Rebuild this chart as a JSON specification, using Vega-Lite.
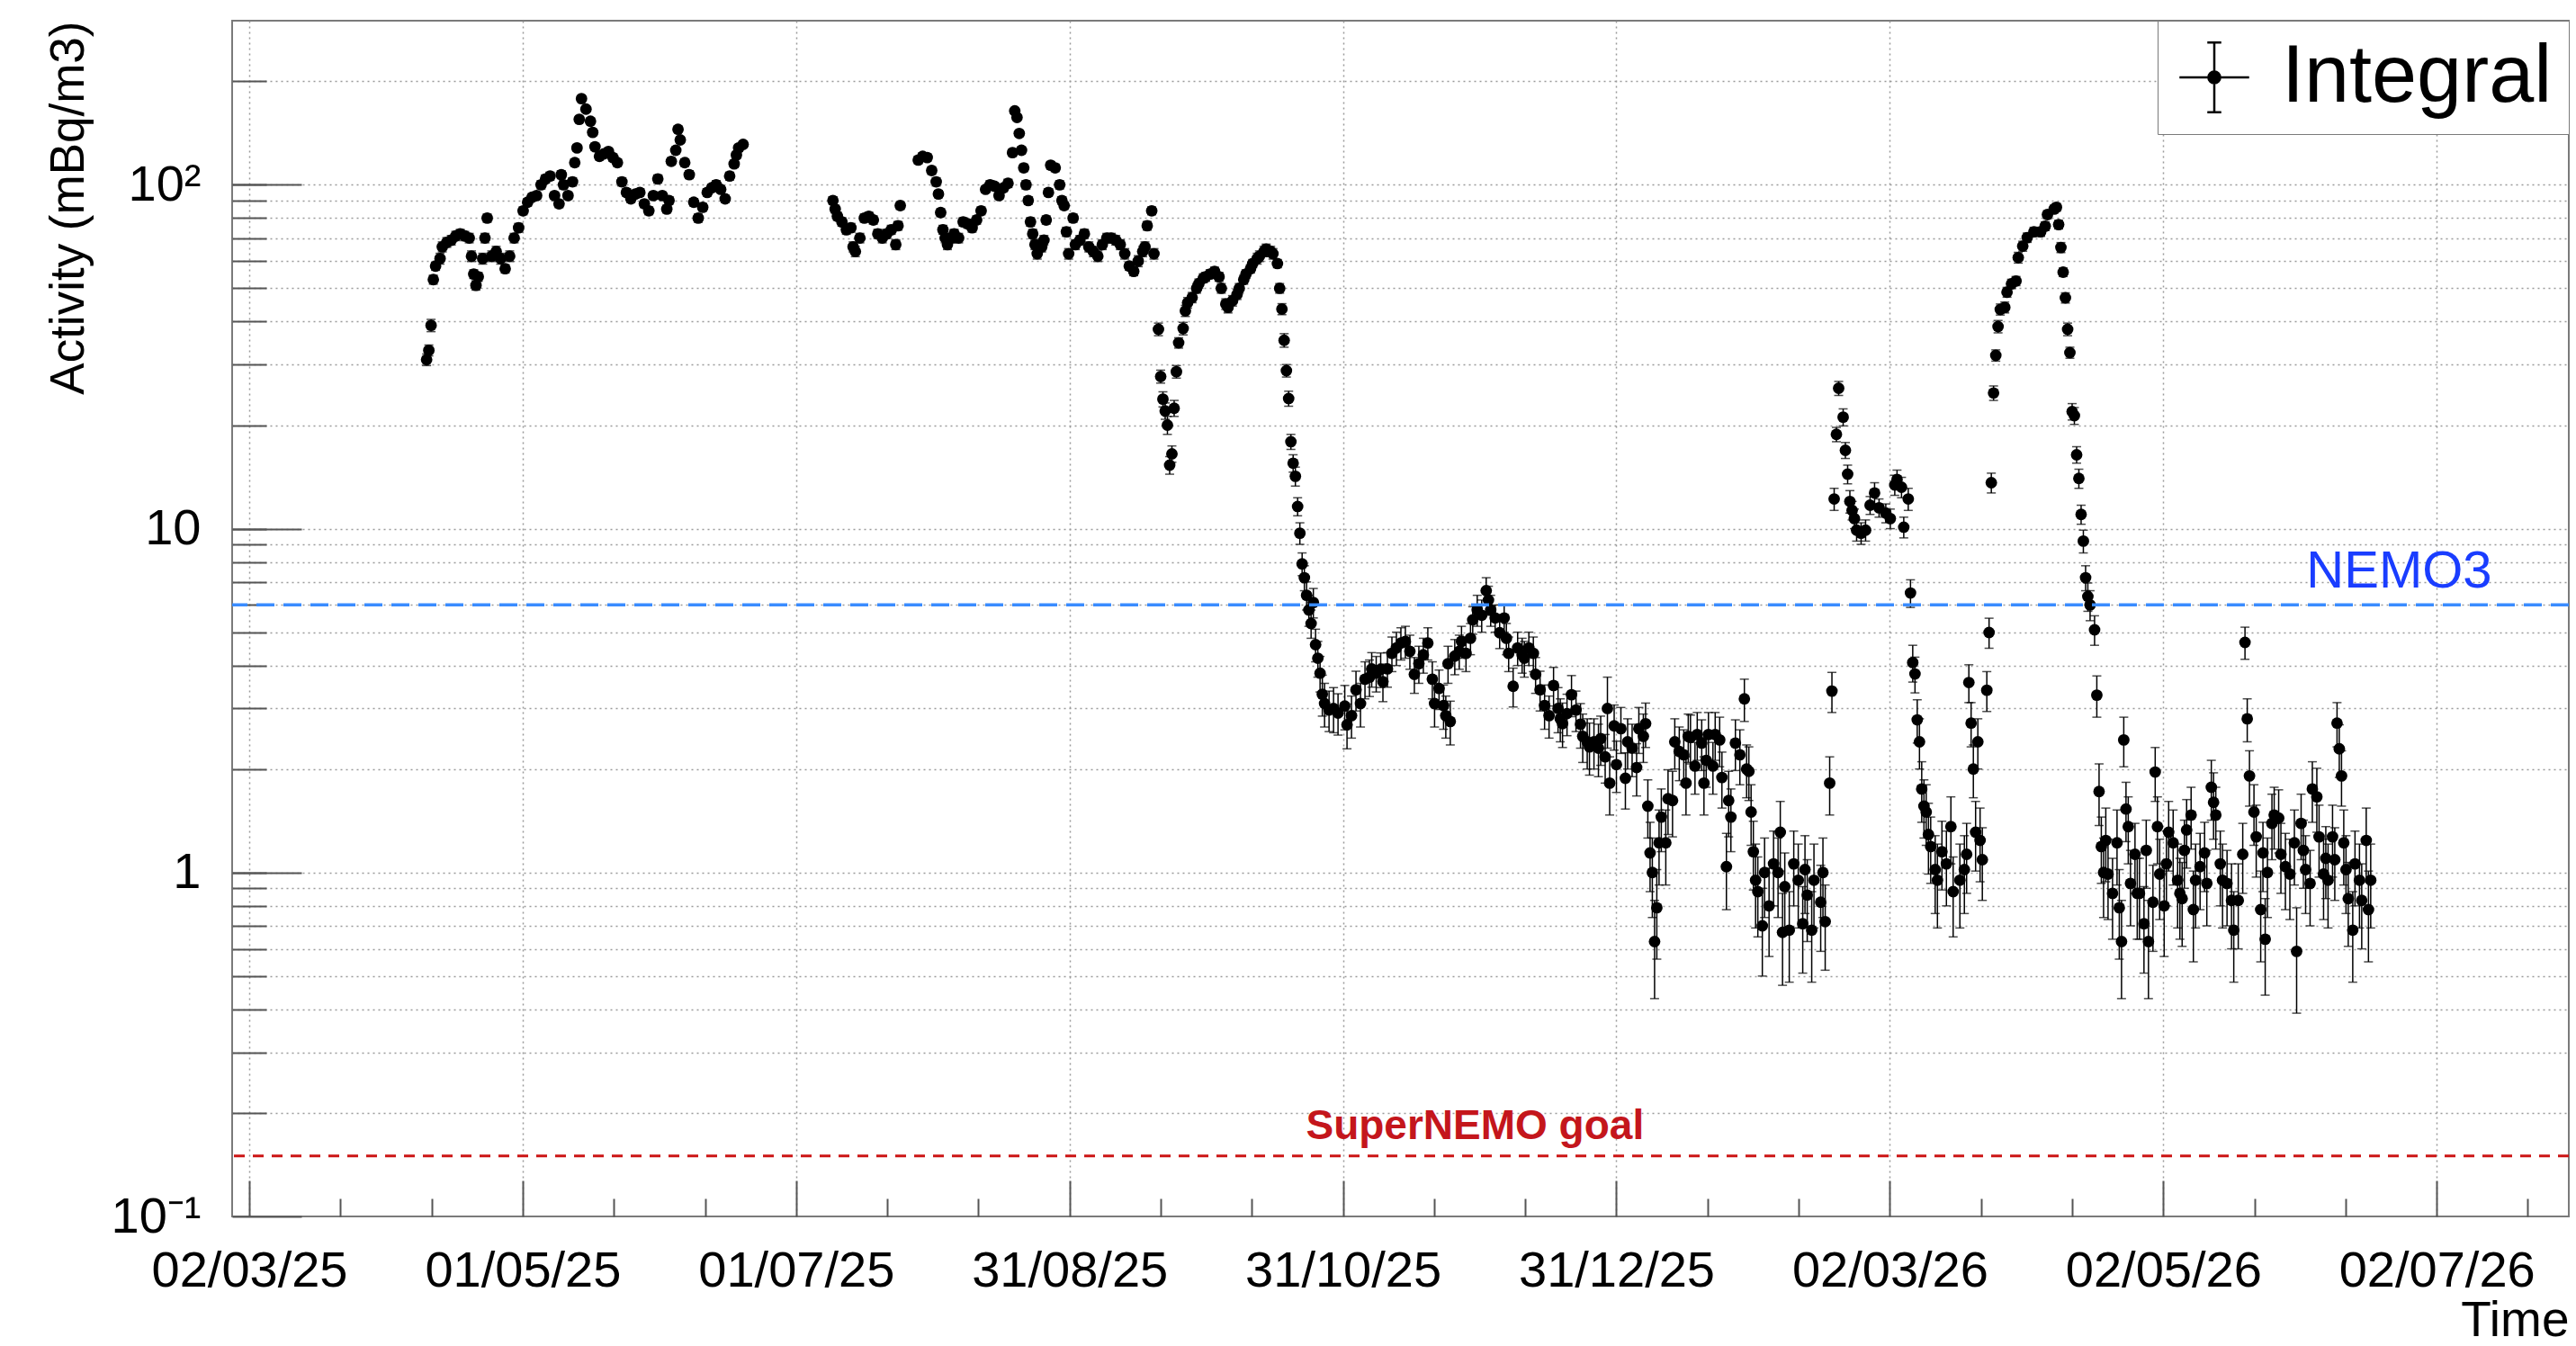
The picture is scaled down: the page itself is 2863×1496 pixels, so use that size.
{
"$schema": "https://vega.github.io/schema/vega-lite/v6.json",
"width": 2597,
"height": 1329,
"autosize": {"type": "none"},
"padding": {"left": 258, "top": 23, "right": 8, "bottom": 144},
"background": "white",
"config": {
  "view": {"stroke": "#7a7a7a", "strokeWidth": 2},
  "font": "Liberation Sans",
  "axis": {"labelFont": "Liberation Sans", "titleFont": "Liberation Sans", "domain": false, "labelColor": "black", "titleColor": "black", "titleFontWeight": "normal", "gridColor": "#9a9a9a", "gridDash": [2, 4], "gridWidth": 1.5, "tickColor": "#555555", "tickWidth": 2, "labelOverlap": false, "labelFlush": false, "labelLimit": 1000, "titleLimit": 2000},
  "legend": {"labelLimit": 1000}
},
"datasets": {
"act": [
{"t":"2025-04-10T12:00:00Z","v":31,"e":1.2},{"t":"2025-04-11","v":33,"e":1.2},{"t":"2025-04-11T12:00:00Z","v":39,"e":1.6},{"t":"2025-04-12","v":53,"e":1.6},{"t":"2025-04-12T12:00:00Z","v":58,"e":1.6},{"t":"2025-04-13T12:00:00Z","v":61,"e":2.2},{"t":"2025-04-14","v":66,"e":2.2},{"t":"2025-04-15","v":68,"e":2.2},{"t":"2025-04-16","v":69,"e":2.2},{"t":"2025-04-17","v":71,"e":2.2},{"t":"2025-04-18","v":72,"e":2.2},{"t":"2025-04-19","v":71,"e":2.2},{"t":"2025-04-20","v":70,"e":2.2},{"t":"2025-04-20T12:00:00Z","v":62,"e":2.2},{"t":"2025-04-21","v":55,"e":1.6},{"t":"2025-04-21T12:00:00Z","v":51,"e":1.6},{"t":"2025-04-22","v":54,"e":1.6},{"t":"2025-04-23","v":61,"e":2.2},{"t":"2025-04-23T12:00:00Z","v":70,"e":2.2},{"t":"2025-04-24","v":80,"e":2.2},{"t":"2025-04-25","v":62,"e":2.2},{"t":"2025-04-26","v":64,"e":2.2},{"t":"2025-04-27","v":61,"e":2.2},{"t":"2025-04-28","v":57,"e":1.6},{"t":"2025-04-29","v":62,"e":2.2},{"t":"2025-04-30","v":70,"e":2.2},
{"t":"2025-05-01","v":75,"e":2.2},{"t":"2025-05-02","v":84,"e":2.2},{"t":"2025-05-03","v":89,"e":2.2},{"t":"2025-05-04","v":92,"e":2.2},{"t":"2025-05-05","v":93,"e":2.2},{"t":"2025-05-06","v":100,"e":2.8},{"t":"2025-05-07","v":104,"e":2.8},{"t":"2025-05-08","v":106,"e":2.8},{"t":"2025-05-09","v":93,"e":2.2},{"t":"2025-05-10","v":88,"e":2.2},{"t":"2025-05-10T12:00:00Z","v":107,"e":2.8},{"t":"2025-05-11","v":100,"e":2.8},{"t":"2025-05-12","v":93,"e":2.2},{"t":"2025-05-13","v":102,"e":2.8},{"t":"2025-05-13T12:00:00Z","v":116,"e":2.8},{"t":"2025-05-14","v":128,"e":2.8},{"t":"2025-05-14T12:00:00Z","v":155,"e":2.8},{"t":"2025-05-15","v":178,"e":2.8},{"t":"2025-05-16","v":166,"e":2.8},{"t":"2025-05-17","v":153,"e":2.8},{"t":"2025-05-17T12:00:00Z","v":142,"e":2.8},{"t":"2025-05-18","v":129,"e":2.8},{"t":"2025-05-19","v":121,"e":2.8},{"t":"2025-05-20","v":123,"e":2.8},{"t":"2025-05-21","v":125,"e":2.8},{"t":"2025-05-22","v":120,"e":2.8},{"t":"2025-05-23","v":116,"e":2.8},{"t":"2025-05-24","v":102,"e":2.8},{"t":"2025-05-25","v":95,"e":2.2},{"t":"2025-05-26","v":91,"e":2.2},{"t":"2025-05-27","v":94,"e":2.2},{"t":"2025-05-28","v":95,"e":2.2},{"t":"2025-05-29","v":88,"e":2.2},{"t":"2025-05-30","v":84,"e":2.2},{"t":"2025-05-31","v":93,"e":2.2},
{"t":"2025-06-01","v":104,"e":2.8},{"t":"2025-06-02","v":93,"e":2.2},{"t":"2025-06-03","v":85,"e":2.2},{"t":"2025-06-03T12:00:00Z","v":90,"e":2.2},{"t":"2025-06-04","v":117,"e":2.8},{"t":"2025-06-05","v":126,"e":2.8},{"t":"2025-06-05T12:00:00Z","v":145,"e":2.8},{"t":"2025-06-06","v":135,"e":2.8},{"t":"2025-06-07","v":116,"e":2.8},{"t":"2025-06-08","v":107,"e":2.8},{"t":"2025-06-09","v":89,"e":2.2},{"t":"2025-06-10","v":80,"e":2.2},{"t":"2025-06-11","v":86,"e":2.2},{"t":"2025-06-12","v":95,"e":2.2},{"t":"2025-06-13","v":98,"e":2.2},{"t":"2025-06-14","v":100,"e":2.8},{"t":"2025-06-15","v":97,"e":2.2},{"t":"2025-06-16","v":91,"e":2.2},{"t":"2025-06-17","v":106,"e":2.8},{"t":"2025-06-18","v":115,"e":2.8},{"t":"2025-06-18T12:00:00Z","v":122,"e":2.8},{"t":"2025-06-19","v":128,"e":2.8},{"t":"2025-06-20","v":131,"e":2.8},
{"t":"2025-07-10","v":90,"e":2.2},{"t":"2025-07-10T12:00:00Z","v":85,"e":2.2},{"t":"2025-07-11","v":81,"e":2.2},{"t":"2025-07-12","v":78,"e":2.2},{"t":"2025-07-13","v":74,"e":2.2},{"t":"2025-07-14","v":75,"e":2.2},{"t":"2025-07-14T12:00:00Z","v":66,"e":2.2},{"t":"2025-07-15","v":64,"e":2.2},{"t":"2025-07-16","v":70,"e":2.2},{"t":"2025-07-17","v":80,"e":2.2},{"t":"2025-07-18","v":81,"e":2.2},{"t":"2025-07-19","v":79,"e":2.2},{"t":"2025-07-20","v":72,"e":2.2},{"t":"2025-07-21","v":70,"e":2.2},{"t":"2025-07-22","v":72,"e":2.2},{"t":"2025-07-23","v":74,"e":2.2},{"t":"2025-07-24","v":67,"e":2.2},{"t":"2025-07-24T12:00:00Z","v":76,"e":2.2},{"t":"2025-07-25","v":87,"e":2.2},{"t":"2025-07-29","v":118,"e":2.8},{"t":"2025-07-30","v":121,"e":2.8},{"t":"2025-07-31","v":120,"e":2.8},
{"t":"2025-08-01","v":110,"e":2.8},{"t":"2025-08-02","v":102,"e":2.8},{"t":"2025-08-02T12:00:00Z","v":94,"e":2.2},{"t":"2025-08-03","v":83,"e":2.2},{"t":"2025-08-03T12:00:00Z","v":74,"e":2.2},{"t":"2025-08-04","v":70,"e":2.2},{"t":"2025-08-04T12:00:00Z","v":67,"e":2.2},{"t":"2025-08-05T12:00:00Z","v":70,"e":2.2},{"t":"2025-08-06","v":72,"e":2.2},{"t":"2025-08-07","v":70,"e":2.2},{"t":"2025-08-08","v":78,"e":2.2},{"t":"2025-08-09","v":77,"e":2.2},{"t":"2025-08-10","v":75,"e":2.2},{"t":"2025-08-11","v":79,"e":2.2},{"t":"2025-08-12","v":84,"e":2.2},{"t":"2025-08-13","v":97,"e":2.2},{"t":"2025-08-14","v":100,"e":2.8},{"t":"2025-08-15","v":99,"e":2.2},{"t":"2025-08-16","v":93,"e":2.2},{"t":"2025-08-17","v":98,"e":2.2},{"t":"2025-08-18","v":101,"e":2.8},{"t":"2025-08-19","v":124,"e":2.8},{"t":"2025-08-19T12:00:00Z","v":164,"e":2.8},{"t":"2025-08-20","v":157,"e":2.8},{"t":"2025-08-20T12:00:00Z","v":141,"e":2.8},{"t":"2025-08-21","v":126,"e":2.8},{"t":"2025-08-21T12:00:00Z","v":112,"e":2.8},{"t":"2025-08-22","v":100,"e":2.8},{"t":"2025-08-22T12:00:00Z","v":90,"e":2.2},{"t":"2025-08-23","v":78,"e":2.2},{"t":"2025-08-23T12:00:00Z","v":72,"e":2.2},{"t":"2025-08-24","v":67,"e":2.2},{"t":"2025-08-24T12:00:00Z","v":63,"e":2.2},{"t":"2025-08-25T12:00:00Z","v":66,"e":2.2},{"t":"2025-08-26","v":69,"e":2.2},{"t":"2025-08-26T12:00:00Z","v":79,"e":2.2},{"t":"2025-08-27","v":95,"e":2.2},{"t":"2025-08-27T12:00:00Z","v":114,"e":2.8},{"t":"2025-08-28T12:00:00Z","v":112,"e":2.8},{"t":"2025-08-29T12:00:00Z","v":100,"e":2.8},{"t":"2025-08-30","v":90,"e":2.2},{"t":"2025-08-30T12:00:00Z","v":87,"e":2.2},{"t":"2025-08-31","v":73,"e":2.2},{"t":"2025-08-31T12:00:00Z","v":63,"e":2.2},
{"t":"2025-09-01T12:00:00Z","v":80,"e":2.2},{"t":"2025-09-02","v":67,"e":2.2},{"t":"2025-09-03","v":69,"e":2.2},{"t":"2025-09-04","v":72,"e":2.2},{"t":"2025-09-05","v":66,"e":2.2},{"t":"2025-09-06","v":64,"e":2.2},{"t":"2025-09-07","v":62,"e":2.2},{"t":"2025-09-08","v":67,"e":2.2},{"t":"2025-09-09","v":70,"e":2.2},{"t":"2025-09-10","v":70,"e":2.2},{"t":"2025-09-11","v":69,"e":2.2},{"t":"2025-09-12","v":67,"e":2.2},{"t":"2025-09-13","v":63,"e":2.2},{"t":"2025-09-14","v":58,"e":1.6},{"t":"2025-09-15","v":56,"e":1.6},{"t":"2025-09-16","v":60,"e":2.2},{"t":"2025-09-17","v":64,"e":2.2},{"t":"2025-09-17T12:00:00Z","v":66,"e":2.2},{"t":"2025-09-18","v":76,"e":2.2},{"t":"2025-09-19","v":84,"e":2.2},{"t":"2025-09-19T12:00:00Z","v":63,"e":2.2},{"t":"2025-09-20T12:00:00Z","v":38,"e":1.6},{"t":"2025-09-21","v":27.7,"e":1.2},{"t":"2025-09-21T12:00:00Z","v":23.8,"e":1.2},{"t":"2025-09-22","v":22,"e":1.2},{"t":"2025-09-22T12:00:00Z","v":20,"e":1.2},{"t":"2025-09-23","v":15.3,"e":0.9},{"t":"2025-09-23T12:00:00Z","v":16.5,"e":0.9},{"t":"2025-09-24","v":22.4,"e":1.2},{"t":"2025-09-24T12:00:00Z","v":28.6,"e":1.2},{"t":"2025-09-25","v":34.7,"e":1.2},{"t":"2025-09-26","v":38.2,"e":1.6},{"t":"2025-09-26T12:00:00Z","v":43,"e":1.6},{"t":"2025-09-27","v":45.4,"e":1.6},{"t":"2025-09-28","v":47,"e":1.6},{"t":"2025-09-29","v":50,"e":1.6},{"t":"2025-09-29T12:00:00Z","v":51.6,"e":1.6},{"t":"2025-09-30T12:00:00Z","v":53.5,"e":1.6},
{"t":"2025-10-01","v":54,"e":1.6},{"t":"2025-10-02","v":55,"e":1.6},{"t":"2025-10-03","v":56,"e":1.6},{"t":"2025-10-04","v":54,"e":1.6},{"t":"2025-10-04T12:00:00Z","v":50,"e":1.6},{"t":"2025-10-05T12:00:00Z","v":45,"e":1.6},{"t":"2025-10-06","v":44,"e":1.6},{"t":"2025-10-07","v":46,"e":1.6},{"t":"2025-10-08","v":48,"e":1.6},{"t":"2025-10-08T12:00:00Z","v":50,"e":1.6},{"t":"2025-10-09T12:00:00Z","v":53,"e":1.6},{"t":"2025-10-10","v":55,"e":1.6},{"t":"2025-10-11","v":57,"e":1.6},{"t":"2025-10-11T12:00:00Z","v":59,"e":1.6},{"t":"2025-10-12T12:00:00Z","v":61,"e":2.2},{"t":"2025-10-13","v":62,"e":2.2},{"t":"2025-10-14","v":64,"e":2.2},{"t":"2025-10-14T12:00:00Z","v":65,"e":2.2},{"t":"2025-10-15T12:00:00Z","v":64,"e":2.2},{"t":"2025-10-16","v":63,"e":2.2},{"t":"2025-10-17","v":59,"e":1.6},{"t":"2025-10-17T12:00:00Z","v":50,"e":1.6},{"t":"2025-10-18","v":43.5,"e":1.6},{"t":"2025-10-18T12:00:00Z","v":35.3,"e":1.6},{"t":"2025-10-19","v":28.8,"e":1.2},{"t":"2025-10-19T12:00:00Z","v":23.9,"e":1.2},{"t":"2025-10-20","v":17.9,"e":0.9},{"t":"2025-10-20T12:00:00Z","v":15.5,"e":0.9},{"t":"2025-10-21","v":14.2,"e":0.9},{"t":"2025-10-21T12:00:00Z","v":11.6,"e":0.7},{"t":"2025-10-22","v":9.7,"e":0.7},{"t":"2025-10-22T12:00:00Z","v":7.9,"e":0.6},{"t":"2025-10-23","v":7.2,"e":0.6},{"t":"2025-10-23T12:00:00Z","v":6.4,"e":0.6},{"t":"2025-10-24","v":5.8,"e":0.6},{"t":"2025-10-24T12:00:00Z","v":5.3,"e":0.5},{"t":"2025-10-25","v":6.1,"e":0.6},{"t":"2025-10-25T12:00:00Z","v":4.6,"e":0.5},{"t":"2025-10-26","v":4.2,"e":0.5},{"t":"2025-10-26T12:00:00Z","v":3.8,"e":0.45},{"t":"2025-10-27","v":3.3,"e":0.45},{"t":"2025-10-27T12:00:00Z","v":3.1,"e":0.45},{"t":"2025-10-28T12:00:00Z","v":2.97,"e":0.4},{"t":"2025-10-29T12:00:00Z","v":3.0,"e":0.45},{"t":"2025-10-30T12:00:00Z","v":2.91,"e":0.4},
{"t":"2025-11-01","v":3.05,"e":0.45},{"t":"2025-11-01T12:00:00Z","v":2.69,"e":0.4},{"t":"2025-11-02T12:00:00Z","v":2.86,"e":0.4},{"t":"2025-11-03T12:00:00Z","v":3.4,"e":0.45},{"t":"2025-11-04T12:00:00Z","v":3.1,"e":0.45},{"t":"2025-11-05T12:00:00Z","v":3.65,"e":0.45},{"t":"2025-11-06T12:00:00Z","v":3.7,"e":0.45},{"t":"2025-11-07","v":3.91,"e":0.45},{"t":"2025-11-08","v":3.8,"e":0.45},{"t":"2025-11-09","v":3.9,"e":0.45},{"t":"2025-11-09T12:00:00Z","v":3.59,"e":0.45},{"t":"2025-11-10T12:00:00Z","v":3.91,"e":0.45},{"t":"2025-11-11T12:00:00Z","v":4.34,"e":0.5},{"t":"2025-11-12T12:00:00Z","v":4.5,"e":0.5},{"t":"2025-11-13T12:00:00Z","v":4.65,"e":0.5},{"t":"2025-11-14T12:00:00Z","v":4.7,"e":0.5},{"t":"2025-11-15T12:00:00Z","v":4.4,"e":0.5},{"t":"2025-11-16T12:00:00Z","v":3.77,"e":0.45},{"t":"2025-11-17T12:00:00Z","v":4.05,"e":0.5},{"t":"2025-11-18T12:00:00Z","v":4.3,"e":0.5},{"t":"2025-11-19T12:00:00Z","v":4.65,"e":0.5},{"t":"2025-11-20T12:00:00Z","v":3.65,"e":0.45},{"t":"2025-11-21","v":3.1,"e":0.45},{"t":"2025-11-22","v":3.43,"e":0.45},{"t":"2025-11-23","v":3.06,"e":0.45},{"t":"2025-11-23T12:00:00Z","v":2.86,"e":0.4},{"t":"2025-11-24","v":4.05,"e":0.5},{"t":"2025-11-24T12:00:00Z","v":2.75,"e":0.4},{"t":"2025-11-25T12:00:00Z","v":4.26,"e":0.5},{"t":"2025-11-26T12:00:00Z","v":4.4,"e":0.5},{"t":"2025-11-27","v":4.7,"e":0.5},{"t":"2025-11-28","v":4.34,"e":0.5},{"t":"2025-11-29","v":4.8,"e":0.5},{"t":"2025-11-29T12:00:00Z","v":5.43,"e":0.5},{"t":"2025-11-30T12:00:00Z","v":5.8,"e":0.6},
{"t":"2025-12-01T12:00:00Z","v":5.6,"e":0.6},{"t":"2025-12-02T12:00:00Z","v":6.6,"e":0.6},{"t":"2025-12-03","v":6.2,"e":0.6},{"t":"2025-12-03T12:00:00Z","v":5.8,"e":0.6},{"t":"2025-12-04T12:00:00Z","v":5.5,"e":0.5},{"t":"2025-12-05T12:00:00Z","v":4.98,"e":0.5},{"t":"2025-12-06T12:00:00Z","v":5.5,"e":0.5},{"t":"2025-12-07","v":4.8,"e":0.5},{"t":"2025-12-07T12:00:00Z","v":4.34,"e":0.5},{"t":"2025-12-08T12:00:00Z","v":3.48,"e":0.45},{"t":"2025-12-09T12:00:00Z","v":4.5,"e":0.5},{"t":"2025-12-10T12:00:00Z","v":4.3,"e":0.5},{"t":"2025-12-11","v":4.2,"e":0.5},{"t":"2025-12-12","v":4.5,"e":0.5},{"t":"2025-12-13","v":4.34,"e":0.5},{"t":"2025-12-13T12:00:00Z","v":3.77,"e":0.45},{"t":"2025-12-14T12:00:00Z","v":3.4,"e":0.45},{"t":"2025-12-15T12:00:00Z","v":3.06,"e":0.45},{"t":"2025-12-16T12:00:00Z","v":2.86,"e":0.4},{"t":"2025-12-17T12:00:00Z","v":3.5,"e":0.45},{"t":"2025-12-18T12:00:00Z","v":3.0,"e":0.45},{"t":"2025-12-19","v":2.8,"e":0.4},{"t":"2025-12-19T12:00:00Z","v":2.71,"e":0.4},{"t":"2025-12-20T12:00:00Z","v":2.9,"e":0.4},{"t":"2025-12-21T12:00:00Z","v":3.29,"e":0.45},{"t":"2025-12-22T12:00:00Z","v":2.97,"e":0.4},{"t":"2025-12-23T12:00:00Z","v":2.7,"e":0.4},{"t":"2025-12-24","v":2.49,"e":0.4},{"t":"2025-12-25","v":2.4,"e":0.4},{"t":"2025-12-25T12:00:00Z","v":2.32,"e":0.4},{"t":"2025-12-26T12:00:00Z","v":2.4,"e":0.4},{"t":"2025-12-27T12:00:00Z","v":2.3,"e":0.4},{"t":"2025-12-28","v":2.45,"e":0.4},{"t":"2025-12-29","v":2.17,"e":0.35},{"t":"2025-12-29T12:00:00Z","v":3.0,"e":0.7},{"t":"2025-12-30","v":1.82,"e":0.35},{"t":"2025-12-31","v":2.67,"e":0.4},{"t":"2025-12-31T12:00:00Z","v":2.06,"e":0.35},
{"t":"2026-01-01T12:00:00Z","v":2.62,"e":0.4},{"t":"2026-01-02T12:00:00Z","v":1.88,"e":0.35},{"t":"2026-01-03","v":2.4,"e":0.4},{"t":"2026-01-04","v":2.3,"e":0.4},{"t":"2026-01-05","v":2.02,"e":0.35},{"t":"2026-01-05T12:00:00Z","v":2.62,"e":0.4},{"t":"2026-01-06T12:00:00Z","v":2.49,"e":0.4},{"t":"2026-01-07","v":2.71,"e":0.4},{"t":"2026-01-07T12:00:00Z","v":1.56,"e":0.3},{"t":"2026-01-08","v":1.14,"e":0.26},{"t":"2026-01-08T12:00:00Z","v":1.0,"e":0.26},{"t":"2026-01-09","v":0.63,"e":0.2},{"t":"2026-01-09T12:00:00Z","v":0.79,"e":0.23},{"t":"2026-01-10","v":1.22,"e":0.3},{"t":"2026-01-10T12:00:00Z","v":1.45,"e":0.3},{"t":"2026-01-11T12:00:00Z","v":1.22,"e":0.3},{"t":"2026-01-12","v":1.64,"e":0.35},{"t":"2026-01-13","v":1.62,"e":0.35},{"t":"2026-01-13T12:00:00Z","v":2.4,"e":0.4},{"t":"2026-01-14T12:00:00Z","v":2.25,"e":0.4},{"t":"2026-01-15T12:00:00Z","v":2.2,"e":0.4},{"t":"2026-01-16","v":1.82,"e":0.35},{"t":"2026-01-16T12:00:00Z","v":2.49,"e":0.4},{"t":"2026-01-17","v":2.47,"e":0.4},{"t":"2026-01-18","v":2.04,"e":0.35},{"t":"2026-01-18T12:00:00Z","v":2.52,"e":0.4},{"t":"2026-01-19T12:00:00Z","v":2.38,"e":0.4},{"t":"2026-01-20","v":1.82,"e":0.35},{"t":"2026-01-20T12:00:00Z","v":2.12,"e":0.35},{"t":"2026-01-21","v":2.52,"e":0.4},{"t":"2026-01-22","v":2.04,"e":0.35},{"t":"2026-01-22T12:00:00Z","v":2.52,"e":0.4},{"t":"2026-01-23T12:00:00Z","v":2.43,"e":0.4},{"t":"2026-01-24","v":1.89,"e":0.35},{"t":"2026-01-25","v":1.04,"e":0.26},{"t":"2026-01-25T12:00:00Z","v":1.62,"e":0.35},{"t":"2026-01-26","v":1.45,"e":0.3},{"t":"2026-01-27","v":2.38,"e":0.4},{"t":"2026-01-28","v":2.2,"e":0.4},{"t":"2026-01-29","v":3.2,"e":0.45},{"t":"2026-01-29T12:00:00Z","v":2.0,"e":0.35},{"t":"2026-01-30","v":1.97,"e":0.35},{"t":"2026-01-30T12:00:00Z","v":1.5,"e":0.3},{"t":"2026-01-31","v":1.15,"e":0.26},{"t":"2026-01-31T12:00:00Z","v":0.95,"e":0.26},
{"t":"2026-02-01","v":0.88,"e":0.23},{"t":"2026-02-02","v":0.7,"e":0.2},{"t":"2026-02-02T12:00:00Z","v":1.0,"e":0.26},{"t":"2026-02-03T12:00:00Z","v":0.8,"e":0.23},{"t":"2026-02-04T12:00:00Z","v":1.06,"e":0.26},{"t":"2026-02-05T12:00:00Z","v":1.0,"e":0.26},{"t":"2026-02-06","v":1.31,"e":0.3},{"t":"2026-02-06T12:00:00Z","v":0.67,"e":0.2},{"t":"2026-02-07","v":0.91,"e":0.23},{"t":"2026-02-08","v":0.68,"e":0.2},{"t":"2026-02-09","v":1.06,"e":0.26},{"t":"2026-02-10","v":0.95,"e":0.26},{"t":"2026-02-11","v":0.71,"e":0.2},{"t":"2026-02-11T12:00:00Z","v":1.02,"e":0.26},{"t":"2026-02-12","v":0.86,"e":0.23},{"t":"2026-02-13","v":0.68,"e":0.2},{"t":"2026-02-13T12:00:00Z","v":0.95,"e":0.26},{"t":"2026-02-15","v":0.82,"e":0.23},{"t":"2026-02-15T12:00:00Z","v":1.0,"e":0.26},{"t":"2026-02-16","v":0.72,"e":0.2},{"t":"2026-02-17","v":1.82,"e":0.35},{"t":"2026-02-17T12:00:00Z","v":3.37,"e":0.45},{"t":"2026-02-18","v":12.2,"e":0.9},{"t":"2026-02-18T12:00:00Z","v":18.8,"e":0.9},{"t":"2026-02-19","v":25.6,"e":1.2},{"t":"2026-02-20","v":21.1,"e":1.2},{"t":"2026-02-20T12:00:00Z","v":16.9,"e":0.9},{"t":"2026-02-21","v":14.4,"e":0.9},{"t":"2026-02-21T12:00:00Z","v":12,"e":0.9},{"t":"2026-02-22","v":11.3,"e":0.7},{"t":"2026-02-22T12:00:00Z","v":10.7,"e":0.7},{"t":"2026-02-23","v":9.9,"e":0.7},{"t":"2026-02-24","v":9.7,"e":0.7},{"t":"2026-02-25","v":9.9,"e":0.7},{"t":"2026-02-26","v":11.7,"e":0.7},{"t":"2026-02-27","v":12.7,"e":0.9},{"t":"2026-02-28","v":11.5,"e":0.7},
{"t":"2026-03-01T12:00:00Z","v":11.1,"e":0.7},{"t":"2026-03-02T12:00:00Z","v":10.7,"e":0.7},{"t":"2026-03-03T12:00:00Z","v":13.4,"e":0.9},{"t":"2026-03-04","v":13.9,"e":0.9},{"t":"2026-03-05","v":13.2,"e":0.9},{"t":"2026-03-05T12:00:00Z","v":10.1,"e":0.7},{"t":"2026-03-06T12:00:00Z","v":12.2,"e":0.9},{"t":"2026-03-07","v":6.5,"e":0.6},{"t":"2026-03-07T12:00:00Z","v":4.08,"e":0.5},{"t":"2026-03-08","v":3.78,"e":0.45},{"t":"2026-03-08T12:00:00Z","v":2.78,"e":0.4},{"t":"2026-03-09","v":2.4,"e":0.4},{"t":"2026-03-09T12:00:00Z","v":1.75,"e":0.35},{"t":"2026-03-10","v":1.56,"e":0.3},{"t":"2026-03-10T12:00:00Z","v":1.5,"e":0.3},{"t":"2026-03-11","v":1.29,"e":0.3},{"t":"2026-03-11T12:00:00Z","v":1.19,"e":0.26},{"t":"2026-03-12T12:00:00Z","v":1.02,"e":0.26},{"t":"2026-03-13","v":0.95,"e":0.26},{"t":"2026-03-14","v":1.15,"e":0.26},{"t":"2026-03-15","v":1.06,"e":0.26},{"t":"2026-03-16","v":1.36,"e":0.3},{"t":"2026-03-16T12:00:00Z","v":0.88,"e":0.23},{"t":"2026-03-18","v":0.95,"e":0.26},{"t":"2026-03-19","v":1.02,"e":0.26},{"t":"2026-03-19T12:00:00Z","v":1.13,"e":0.26},{"t":"2026-03-20","v":3.57,"e":0.45},{"t":"2026-03-20T12:00:00Z","v":2.72,"e":0.4},{"t":"2026-03-21","v":2.0,"e":0.35},{"t":"2026-03-21T12:00:00Z","v":1.31,"e":0.3},{"t":"2026-03-22","v":2.4,"e":0.4},{"t":"2026-03-22T12:00:00Z","v":1.24,"e":0.3},{"t":"2026-03-23","v":1.09,"e":0.26},{"t":"2026-03-24","v":3.39,"e":0.45},{"t":"2026-03-24T12:00:00Z","v":4.99,"e":0.5},{"t":"2026-03-25","v":13.6,"e":0.9},{"t":"2026-03-25T12:00:00Z","v":24.8,"e":1.2},{"t":"2026-03-26","v":31.9,"e":1.2},{"t":"2026-03-26T12:00:00Z","v":38.7,"e":1.6},{"t":"2026-03-27","v":43.4,"e":1.6},{"t":"2026-03-28","v":44,"e":1.6},{"t":"2026-03-28T12:00:00Z","v":48.7,"e":1.6},{"t":"2026-03-29T12:00:00Z","v":51.5,"e":1.6},{"t":"2026-03-30T12:00:00Z","v":52.5,"e":1.6},{"t":"2026-03-31","v":61.4,"e":2.2},
{"t":"2026-04-01","v":66.3,"e":2.2},{"t":"2026-04-02","v":70.2,"e":2.2},{"t":"2026-04-03T12:00:00Z","v":73,"e":2.2},{"t":"2026-04-05","v":73,"e":2.2},{"t":"2026-04-06","v":75.8,"e":2.2},{"t":"2026-04-06T12:00:00Z","v":81.9,"e":2.2},{"t":"2026-04-08","v":85,"e":2.2},{"t":"2026-04-08T12:00:00Z","v":86,"e":2.2},{"t":"2026-04-09","v":76.6,"e":2.2},{"t":"2026-04-09T12:00:00Z","v":65.7,"e":2.2},{"t":"2026-04-10","v":55.7,"e":1.6},{"t":"2026-04-10T12:00:00Z","v":46.9,"e":1.6},{"t":"2026-04-11","v":38,"e":1.6},{"t":"2026-04-11T12:00:00Z","v":32.5,"e":1.2},{"t":"2026-04-12","v":21.9,"e":1.2},{"t":"2026-04-12T12:00:00Z","v":21.3,"e":1.2},{"t":"2026-04-13","v":16.4,"e":0.9},{"t":"2026-04-13T12:00:00Z","v":14,"e":0.9},{"t":"2026-04-14","v":11,"e":0.7},{"t":"2026-04-14T12:00:00Z","v":9.2,"e":0.7},{"t":"2026-04-15","v":7.2,"e":0.6},{"t":"2026-04-15T12:00:00Z","v":6.35,"e":0.6},{"t":"2026-04-16","v":6.0,"e":0.6},{"t":"2026-04-17","v":5.08,"e":0.5},{"t":"2026-04-17T12:00:00Z","v":3.28,"e":0.45},{"t":"2026-04-18","v":1.72,"e":0.35},{"t":"2026-04-18T12:00:00Z","v":1.19,"e":0.26},{"t":"2026-04-19","v":1.0,"e":0.26},{"t":"2026-04-19T12:00:00Z","v":1.24,"e":0.3},{"t":"2026-04-20","v":0.99,"e":0.26},{"t":"2026-04-21","v":0.87,"e":0.23},{"t":"2026-04-22","v":1.22,"e":0.3},{"t":"2026-04-22T12:00:00Z","v":0.79,"e":0.23},{"t":"2026-04-23","v":0.63,"e":0.2},{"t":"2026-04-23T12:00:00Z","v":2.43,"e":0.4},{"t":"2026-04-24","v":1.53,"e":0.3},{"t":"2026-04-24T12:00:00Z","v":1.36,"e":0.3},{"t":"2026-04-25","v":0.93,"e":0.23},{"t":"2026-04-26","v":1.13,"e":0.26},{"t":"2026-04-26T12:00:00Z","v":0.87,"e":0.23},{"t":"2026-04-27","v":0.87,"e":0.23},{"t":"2026-04-28","v":0.71,"e":0.2},{"t":"2026-04-28T12:00:00Z","v":1.16,"e":0.26},{"t":"2026-04-29","v":0.63,"e":0.2},{"t":"2026-04-30","v":0.82,"e":0.23},{"t":"2026-04-30T12:00:00Z","v":1.96,"e":0.35},
{"t":"2026-05-01","v":1.36,"e":0.3},{"t":"2026-05-01T12:00:00Z","v":0.99,"e":0.26},{"t":"2026-05-02T12:00:00Z","v":0.8,"e":0.23},{"t":"2026-05-03","v":1.06,"e":0.26},{"t":"2026-05-03T12:00:00Z","v":1.31,"e":0.3},{"t":"2026-05-04T12:00:00Z","v":1.22,"e":0.3},{"t":"2026-05-05T12:00:00Z","v":0.95,"e":0.26},{"t":"2026-05-06","v":0.87,"e":0.23},{"t":"2026-05-06T12:00:00Z","v":0.84,"e":0.23},{"t":"2026-05-07","v":1.16,"e":0.26},{"t":"2026-05-07T12:00:00Z","v":1.33,"e":0.3},{"t":"2026-05-08T12:00:00Z","v":1.47,"e":0.3},{"t":"2026-05-09","v":0.78,"e":0.23},{"t":"2026-05-09T12:00:00Z","v":0.95,"e":0.26},{"t":"2026-05-10T12:00:00Z","v":1.04,"e":0.26},{"t":"2026-05-11T12:00:00Z","v":1.14,"e":0.26},{"t":"2026-05-12","v":0.93,"e":0.23},{"t":"2026-05-13","v":1.77,"e":0.35},{"t":"2026-05-13T12:00:00Z","v":1.6,"e":0.35},{"t":"2026-05-14","v":1.47,"e":0.3},{"t":"2026-05-15","v":1.06,"e":0.26},{"t":"2026-05-15T12:00:00Z","v":0.95,"e":0.26},{"t":"2026-05-16T12:00:00Z","v":0.93,"e":0.23},{"t":"2026-05-17T12:00:00Z","v":0.83,"e":0.23},{"t":"2026-05-18","v":0.68,"e":0.2},{"t":"2026-05-19","v":0.83,"e":0.23},{"t":"2026-05-20","v":1.13,"e":0.26},{"t":"2026-05-20T12:00:00Z","v":4.67,"e":0.5},{"t":"2026-05-21","v":2.8,"e":0.4},{"t":"2026-05-21T12:00:00Z","v":1.91,"e":0.35},{"t":"2026-05-22T12:00:00Z","v":1.5,"e":0.3},{"t":"2026-05-23","v":1.27,"e":0.3},{"t":"2026-05-24","v":0.78,"e":0.23},{"t":"2026-05-24T12:00:00Z","v":1.14,"e":0.26},{"t":"2026-05-25","v":0.64,"e":0.2},{"t":"2026-05-25T12:00:00Z","v":1.0,"e":0.26},{"t":"2026-05-26T12:00:00Z","v":1.39,"e":0.3},{"t":"2026-05-27","v":1.47,"e":0.3},{"t":"2026-05-28","v":1.44,"e":0.3},{"t":"2026-05-28T12:00:00Z","v":1.13,"e":0.26},{"t":"2026-05-29T12:00:00Z","v":1.04,"e":0.26},{"t":"2026-05-30T12:00:00Z","v":0.99,"e":0.26},{"t":"2026-05-31T12:00:00Z","v":1.22,"e":0.3},
{"t":"2026-06-01","v":0.59,"e":0.2},{"t":"2026-06-02","v":1.39,"e":0.3},{"t":"2026-06-02T12:00:00Z","v":1.16,"e":0.26},{"t":"2026-06-03","v":1.02,"e":0.26},{"t":"2026-06-04","v":0.93,"e":0.23},{"t":"2026-06-04T12:00:00Z","v":1.75,"e":0.35},{"t":"2026-06-05T12:00:00Z","v":1.66,"e":0.35},{"t":"2026-06-06","v":1.27,"e":0.3},{"t":"2026-06-07","v":0.99,"e":0.26},{"t":"2026-06-07T12:00:00Z","v":1.1,"e":0.26},{"t":"2026-06-08","v":0.95,"e":0.26},{"t":"2026-06-09","v":1.27,"e":0.3},{"t":"2026-06-09T12:00:00Z","v":1.09,"e":0.26},{"t":"2026-06-10","v":2.72,"e":0.4},{"t":"2026-06-10T12:00:00Z","v":2.29,"e":0.4},{"t":"2026-06-11","v":1.91,"e":0.35},{"t":"2026-06-11T12:00:00Z","v":1.22,"e":0.3},{"t":"2026-06-12","v":1.02,"e":0.26},{"t":"2026-06-12T12:00:00Z","v":0.84,"e":0.23},{"t":"2026-06-13T12:00:00Z","v":0.68,"e":0.2},{"t":"2026-06-14","v":1.06,"e":0.26},{"t":"2026-06-15","v":0.95,"e":0.26},{"t":"2026-06-15T12:00:00Z","v":0.83,"e":0.23},{"t":"2026-06-16T12:00:00Z","v":1.24,"e":0.3},{"t":"2026-06-17","v":0.78,"e":0.23},{"t":"2026-06-17T12:00:00Z","v":0.95,"e":0.26}
]
},
"layer": [
{
  "data": {"name": "act"},
  "mark": {"type": "point", "opacity": 0},
  "encoding": {
    "x": {"field": "t", "type": "temporal", "scale": {"type": "utc", "domain": [1740544416000, 1785509568000], "nice": false},
      "axis": {"orient": "bottom", "values": [1742627520000, 1744381440000, 1747889280000, 1749643200000, 1753151040000, 1754904960000, 1758412800000, 1760166720000, 1763674560000, 1765428480000, 1768936320000, 1770690240000, 1774198080000, 1775952000000, 1779459840000, 1781213760000, 1784721600000], "tickSize": -20, "labels": false, "grid": false, "title": null}},
    "y": {"field": "v", "type": "quantitative", "scale": {"type": "log", "domain": [0.1, 300], "nice": false},
      "axis": {"orient": "left", "values": [0.2, 0.3, 0.4, 0.5, 0.6, 0.7, 0.8, 0.9, 1, 2, 3, 4, 5, 6, 7, 8, 9, 10, 20, 30, 40, 50, 60, 70, 80, 90, 100, 200], "tickSize": -38, "labels": false, "grid": true, "title": null}}
  }
},
{
  "data": {"name": "act"},
  "mark": {"type": "errorbar", "color": "black", "thickness": 1.5, "ticks": {"size": 10, "thickness": 1.5, "color": "black"}},
  "encoding": {
    "x": {"field": "t", "type": "temporal", "scale": {"type": "utc", "domain": [1740544416000, 1785509568000], "nice": false}, "axis": null},
    "y": {"field": "v", "type": "quantitative", "scale": {"type": "log", "domain": [0.1, 300], "nice": false}, "axis": null},
    "yError": {"field": "e"}
  }
},
{
  "data": {"name": "act"},
  "mark": {"type": "point", "filled": true, "size": 165, "opacity": 1},
  "encoding": {
    "x": {"field": "t", "type": "temporal", "scale": {"type": "utc", "domain": [1740544416000, 1785509568000], "nice": false},
      "axis": {"orient": "bottom", "values": [1740873600000, 1746135360000, 1751397120000, 1756658880000, 1761920640000, 1767182400000, 1772444160000, 1777705920000, 1782967680000], "tickSize": -40, "grid": true, "labelExpr": "utcFormat(datum.value, '%d/%m/%y')", "labelFontSize": 56, "labelPadding": 73, "title": "Time", "titleFontSize": 55, "titleAnchor": "end", "titlePadding": 1}},
    "y": {"field": "v", "type": "quantitative", "scale": {"type": "log", "domain": [0.1, 300], "nice": false},
      "axis": {"orient": "left", "values": [0.1, 1, 10, 100], "tickSize": -77, "grid": false, "labelExpr": "datum.value >= 99 ? '10²' : datum.value >= 9 ? '10' : datum.value >= 0.9 ? '1' : '10⁻¹'", "labelFontSize": 56, "labelPadding": 112, "title": "Activity (mBq/m3)", "titleFontSize": 53, "titleAnchor": "end", "titlePadding": 20}},
    "color": {"datum": "Integral", "type": "nominal", "scale": {"range": ["black"]},
      "legend": {"title": null, "orient": "top-right", "offset": 0, "labelFontSize": 90, "labelFont": "Liberation Sans", "labelColor": "black", "labelLimit": 1000, "symbolType": "M-1,0H1M0,-1V1M-0.2,-1H0.2M-0.2,1H0.2M0.17,0A0.17,0.17,0,1,1,-0.17,0A0.17,0.17,0,1,1,0.17,0Z", "symbolSize": 6000, "symbolStrokeWidth": 2.5, "symbolStrokeColor": "black", "symbolFillColor": "black", "padding": 18, "labelOffset": 30, "strokeColor": "#7a7a7a", "fillColor": "white", "cornerRadius": 0,
        "encode": {"symbols": {"update": {"stroke": {"value": "black"}, "strokeWidth": {"value": 2.5}, "fill": {"value": "black"}, "opacity": {"value": 1}}}, "legend": {"update": {"strokeWidth": {"value": 2}}}}}}
  }
},
{
  "data": {"values": [{}]},
  "mark": {"type": "rule", "color": "#3a8cff", "strokeDash": [20, 10], "strokeWidth": 3.5},
  "encoding": {"y": {"datum": 6, "type": "quantitative", "scale": {"type": "log", "domain": [0.1, 300], "nice": false}, "axis": null}}
},
{
  "data": {"values": [{}]},
  "mark": {"type": "rule", "color": "#cc1515", "strokeDash": [12, 9], "strokeWidth": 3},
  "encoding": {"y": {"datum": 0.15, "type": "quantitative", "scale": {"type": "log", "domain": [0.1, 300], "nice": false}, "axis": null}}
},
{
  "data": {"values": [{}]},
  "mark": {"type": "text", "text": "NEMO3", "color": "#1a3dff", "fontSize": 58, "font": "Liberation Sans", "align": "right", "baseline": "alphabetic", "dy": -19},
  "encoding": {
    "x": {"datum": {"year": 2026, "month": 7, "date": 14, "hours": 12, "utc": true}, "type": "temporal", "scale": {"type": "utc", "domain": [1740544416000, 1785509568000], "nice": false}, "axis": null},
    "y": {"datum": 6, "type": "quantitative", "scale": {"type": "log", "domain": [0.1, 300], "nice": false}, "axis": null}
  }
},
{
  "data": {"values": [{}]},
  "mark": {"type": "text", "text": "SuperNEMO goal", "color": "#c4161c", "fontSize": 46, "fontWeight": "bold", "font": "Liberation Sans", "align": "center", "baseline": "alphabetic", "dy": -19},
  "encoding": {
    "x": {"datum": {"year": 2025, "month": 11, "date": 30, "utc": true}, "type": "temporal", "scale": {"type": "utc", "domain": [1740544416000, 1785509568000], "nice": false}, "axis": null},
    "y": {"datum": 0.15, "type": "quantitative", "scale": {"type": "log", "domain": [0.1, 300], "nice": false}, "axis": null}
  }
}
],
"resolve": {"axis": {"x": "independent", "y": "independent"}}
}
